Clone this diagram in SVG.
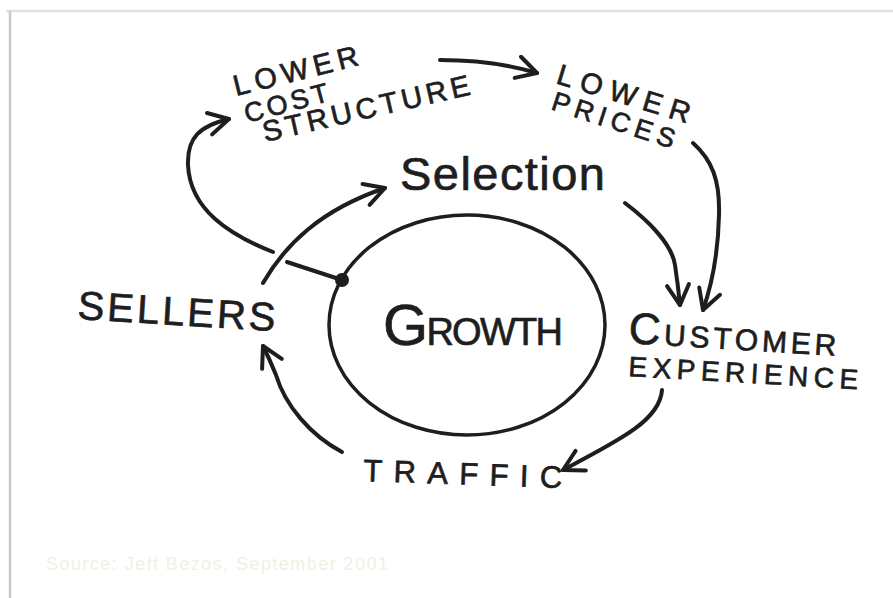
<svg xmlns="http://www.w3.org/2000/svg" width="893" height="598" viewBox="0 0 893 598">
<defs>
<style>
.hand{font-family:"Liberation Sans","DejaVu Sans",sans-serif;fill:#1e1e1e;stroke:#1e1e1e;stroke-width:0.7;stroke-linejoin:round}
.ln{fill:none;stroke:#1e1e1e;stroke-width:4;stroke-linecap:round;stroke-linejoin:round}
.src{font-family:"Liberation Sans",Arial,sans-serif;font-size:18px;fill:#f1f0e4}
</style>
<marker id="ah" markerUnits="userSpaceOnUse" markerWidth="40" markerHeight="40" viewBox="-30 -20 40 40" refX="0" refY="0" orient="auto" overflow="visible">
<path d="M-20,-11 L0,0 L-20,11" fill="none" stroke="#1e1e1e" stroke-width="4" stroke-linecap="round" stroke-linejoin="round"/>
</marker>
</defs>
<rect width="893" height="598" fill="#ffffff"/>
<g id="frame">
<line x1="6" y1="11" x2="893" y2="11" stroke="#e2e2e2" stroke-width="2.5"/>
<line x1="10" y1="11" x2="10" y2="598" stroke="#c9c9c9" stroke-width="2.5"/>
</g>
<g id="connectors">
<path class="ln" d="M273,252 C230,235 190,210 188,165 C187,137 200,126 229,119" marker-end="url(#ah)"/>
<path class="ln" d="M440,60 C480,60 510,65 537,73" marker-end="url(#ah)"/>
<path class="ln" d="M693,143 C712,160 720,180 719,215 C718,260 710,290 703,310" marker-end="url(#ah)"/>
<path class="ln" d="M625,203 C650,222 672,245 675,265 C678,285 679,295 680,305" marker-end="url(#ah)"/>
<path class="ln" d="M662,390 C660,420 620,440 563,470" marker-end="url(#ah)"/>
<path class="ln" d="M342,452 C310,435 285,405 276,375 C270,360 266,352 263,346" marker-end="url(#ah)"/>
<path class="ln" d="M263,283 C285,245 320,210 385,188" marker-end="url(#ah)"/>
<line class="ln" x1="342" y1="280" x2="287" y2="262"/>
</g>
<g id="growth">
<ellipse cx="467" cy="325" rx="138" ry="110" fill="none" stroke="#1e1e1e" stroke-width="3.5"/>
<circle cx="342" cy="280" r="7" fill="#1e1e1e"/>
<text class="hand" stroke-width="0.3" x="383" y="345" textLength="180" lengthAdjust="spacing"><tspan font-size="58">G</tspan><tspan font-size="38">ROWTH</tspan></text>
</g>
<g id="lower-cost-structure">
<text class="hand" font-size="29" transform="translate(236,96) rotate(-14)" textLength="128" lengthAdjust="spacing">LOWER</text>
<text class="hand" font-size="27" transform="translate(247,123) rotate(-15)" textLength="86" lengthAdjust="spacing">COST</text>
<text class="hand" font-size="29" transform="translate(265,142) rotate(-13)" textLength="212" lengthAdjust="spacing">STRUCTURE</text>
</g>
<g id="lower-prices">
<text class="hand" font-size="29" transform="translate(555,83) rotate(17)" textLength="138" lengthAdjust="spacing">LOWER</text>
<text class="hand" font-size="27" transform="translate(550,109) rotate(18)" textLength="128" lengthAdjust="spacing">PRICES</text>
</g>
<g id="selection">
<text class="hand" font-size="47" stroke-width="0" x="400" y="190" textLength="205" lengthAdjust="spacing">Selection</text>
</g>
<g id="sellers">
<text class="hand" font-size="40" transform="translate(77,319) rotate(3.5)" textLength="198" lengthAdjust="spacing">SELLERS</text>
</g>
<g id="customer-experience">
<text class="hand" transform="translate(628,343) rotate(3.5)" textLength="208" lengthAdjust="spacing"><tspan font-size="44">C</tspan><tspan font-size="30">USTOMER</tspan></text>
<text class="hand" font-size="28" transform="translate(628,376) rotate(3.3)" textLength="230" lengthAdjust="spacing">EXPERIENCE</text>
</g>
<g id="traffic">
<text class="hand" font-size="31" transform="translate(363,481) rotate(2)" textLength="199" lengthAdjust="spacing">TRAFFIC</text>
</g>
<text class="src" x="46" y="570" textLength="342" lengthAdjust="spacing">Source: Jeff Bezos, September 2001</text>
</svg>
